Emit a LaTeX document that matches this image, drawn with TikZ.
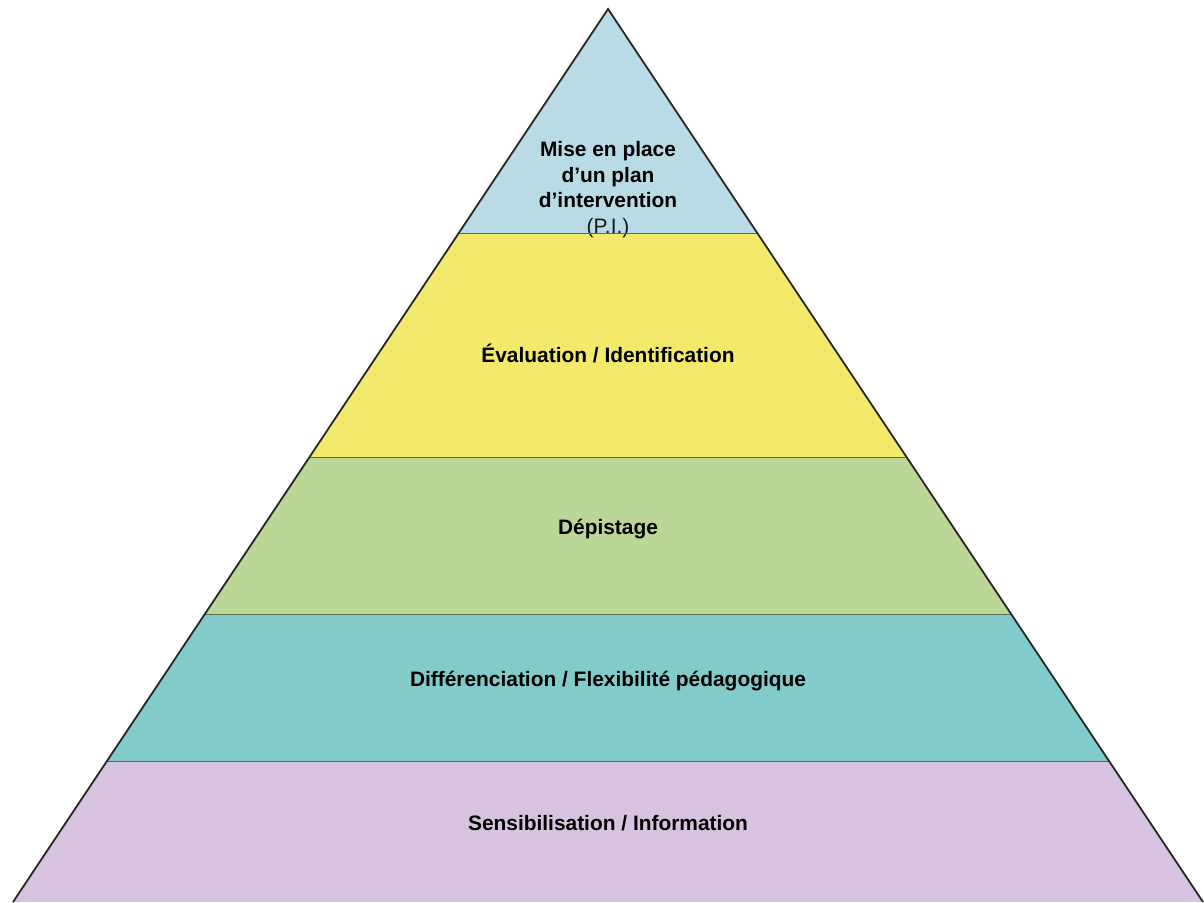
\documentclass[tikz,border=0pt]{standalone}
\usepackage{fontspec}
\setmainfont{Liberation Sans}
\begin{document}
\begin{tikzpicture}[x=1pt,y=-1pt,
  lbl/.style={font=\bfseries\fontsize{20.9}{25.5}\selectfont, align=center, text=black, inner sep=0pt},
  sep/.style={draw=black!60!green!40!gray, line width=1pt}]
\definecolor{cblue}{HTML}{B8DBE6}
\definecolor{cyellow}{HTML}{F3EA6B}
\definecolor{cgreen}{HTML}{BAD797}
\definecolor{cteal}{HTML}{83CBCB}
\definecolor{cpurple}{HTML}{D7C3E0}
\useasboundingbox (0,0) rectangle (1204,902);
\coordinate (A) at (608,9);
\coordinate (L) at (13,902);
\coordinate (R) at (1203,902);
\begin{scope}
  \clip (A) -- (L) -- (R) -- cycle;
  \fill[cblue] (0,0) rectangle (1204,233);
  \fill[cyellow] (0,233) rectangle (1204,457);
  \fill[cgreen] (0,457) rectangle (1204,614);
  \fill[cteal] (0,614) rectangle (1204,761);
  \fill[cpurple] (0,761) rectangle (1204,902);
\end{scope}
\node[lbl] (t1) at (608,175) {Mise en place\\d’un plan\\d’intervention};
\node[font=\fontsize{20.9}{25.5}\selectfont, text=black!90, inner sep=0pt] (t1b) at (608,228) {(P.I.)};
\begin{scope}
  \clip (A) -- (L) -- (R) -- cycle;
  \draw[sep] (0,233) -- (1204,233);
  \draw[sep] (0,457) -- (1204,457);
  \draw[sep] (0,614) -- (1204,614);
  \draw[sep] (0,761) -- (1204,761);
\end{scope}
\node[lbl] (t2) at (608,353) {Évaluation / Identification};
\node[lbl] (t3) at (608,529) {Dépistage};
\node[lbl] (t4) at (608,681) {Différenciation / Flexibilité pédagogique};
\node[lbl] (t5) at (608,823) {Sensibilisation / Information};
\draw[line width=1.8pt, draw=black!85, line join=miter] (L) -- (A) -- (R);
\end{tikzpicture}
\end{document}
